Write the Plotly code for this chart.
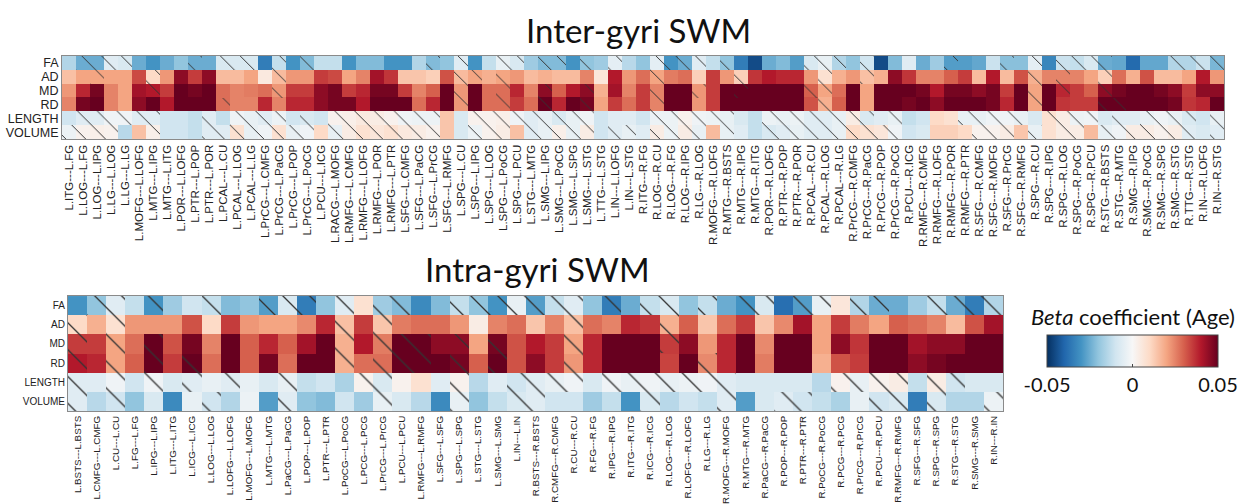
import plotly.graph_objects as go

rows = ["FA", "AD", "MD", "RD", "LENGTH", "VOLUME"]

inter_labels = [
 "L.ITG---L.FG","L.LOG---L.FG","L.LOG---L.IPG","L.LG---L.LOG","L.LG---L.LG","L.MOFG---L.LOFG",
 "L.MTG---L.IPG","L.MTG---L.ITG","L.POR---L.LOFG","L.PTR---L.POP","L.PTR---L.POR","L.PCAL---L.CU",
 "L.PCAL---L.LOG","L.PCAL---L.LG","L.PrCG---L.CMFG","L.PrCG---L.PaCG","L.PrCG---L.POP","L.PrCG---L.PoCG",
 "L.PCU---L.ICG","L.RACG---L.MOFG","L.RMFG---L.CMFG","L.RMFG---L.LOFG","L.RMFG---L.POR","L.RMFG---L.PTR",
 "L.SFG---L.CMFG","L.SFG---L.PaCG","L.SFG---L.PrCG","L.SFG---L.RMFG","L.SPG---L.CU","L.SPG---L.IPG",
 "L.SPG---L.LOG","L.SPG---L.PoCG","L.SPG---L.PCU","L.STG---L.MTG","L.SMG---L.IPG","L.SMG---L.PoCG",
 "L.SMG---L.SPG","L.SMG---L.STG","L.TTG---L.STG","L.IN---L.LOFG","L.IN---L.STG",
 "R.ITG---R.FG","R.LOG---R.CU","R.LOG---R.FG","R.LOG---R.IPG","R.LG---R.LOG","R.MOFG---R.LOFG",
 "R.MTG---R.BSTS","R.MTG---R.IPG","R.MTG---R.ITG","R.POR---R.LOFG","R.PTR---R.POP","R.PTR---R.POR",
 "R.PCAL---R.CU","R.PCAL---R.LOG","R.PCAL---R.LG","R.PrCG---R.CMFG","R.PrCG---R.PaCG","R.PrCG---R.POP",
 "R.PrCG---R.PoCG","R.PCU---R.ICG","R.RMFG---R.CMFG","R.RMFG---R.LOFG","R.RMFG---R.POR","R.RMFG---R.PTR",
 "R.SFG---R.CMFG","R.SFG---R.MOFG","R.SFG---R.PrCG","R.SFG---R.RMFG","R.SPG---R.CU","R.SPG---R.IPG",
 "R.SPG---R.LOG","R.SPG---R.PoCG","R.SPG---R.PCU","R.STG---R.BSTS","R.STG---R.MTG","R.SMG---R.IPG",
 "R.SMG---R.PoCG","R.SMG---R.SPG","R.SMG---R.STG","R.TTG---R.STG","R.IN---R.LOFG","R.IN---R.STG"]

inter_FA = [-0.015,-0.025,-0.025,-0.006,-0.008,-0.025,-0.03,-0.025,-0.02,-0.025,-0.025,-0.008,-0.008,-0.008,
 -0.035,-0.012,-0.03,-0.022,-0.012,-0.012,-0.03,-0.022,-0.022,-0.03,-0.03,-0.015,-0.022,-0.02,-0.006,-0.03,
 -0.012,-0.004,-0.008,-0.018,-0.022,-0.022,-0.03,-0.02,-0.018,-0.005,-0.014,-0.02,-0.005,-0.03,-0.025,-0.006,
 -0.012,-0.02,-0.035,-0.045,-0.025,-0.022,-0.028,-0.008,-0.004,-0.015,-0.02,-0.01,-0.045,-0.022,-0.006,-0.025,
 -0.018,-0.028,-0.028,-0.026,-0.011,-0.021,-0.021,-0.005,-0.033,-0.011,-0.012,-0.008,-0.025,-0.026,-0.039,
 -0.026,-0.026,-0.015,-0.015,-0.011,-0.023]
inter_AD = [0.015,0.02,0.02,0.02,0.02,0.033,0.01,0.022,0.045,0.035,0.045,0.016,0.016,0.02,0.005,0.016,0.022,
 0.022,0.035,0.033,0.02,0.025,0.042,0.036,0.014,0.014,0.012,0.032,0.016,0.02,0.018,0.02,0.022,0.016,0.018,
 0.016,0.016,0.025,0.006,0.04,0.022,0.028,0.02,0.026,0.028,0.012,0.035,0.022,0.012,0.036,0.04,0.038,0.038,
 0.022,0.008,0.018,0.022,0.015,0.018,0.045,0.036,0.025,0.025,0.03,0.035,0.016,0.04,0.016,0.032,0.018,0.025,
 0.025,0.025,0.02,0.012,0.028,0.018,0.032,0.016,0.016,0.02,0.04,0.022]
inter_MD = [0.022,0.038,0.048,0.025,0.02,0.042,0.04,0.035,0.05,0.048,0.05,0.028,0.025,0.026,0.028,0.022,0.035,
 0.035,0.045,0.048,0.035,0.038,0.048,0.048,0.035,0.025,0.03,0.05,0.022,0.05,0.028,0.028,0.038,0.025,0.045,
 0.03,0.04,0.045,0.018,0.042,0.025,0.035,0.025,0.05,0.05,0.022,0.035,0.05,0.05,0.05,0.05,0.05,0.05,0.03,0.02,
 0.028,0.05,0.02,0.05,0.05,0.05,0.048,0.04,0.048,0.048,0.045,0.048,0.035,0.05,0.02,0.05,0.038,0.035,0.03,
 0.045,0.048,0.05,0.05,0.048,0.045,0.035,0.045,0.045]
inter_RD = [0.025,0.048,0.05,0.025,0.02,0.045,0.05,0.04,0.05,0.05,0.05,0.028,0.025,0.025,0.038,0.025,0.038,
 0.038,0.045,0.048,0.048,0.04,0.05,0.05,0.05,0.028,0.038,0.05,0.022,0.05,0.028,0.028,0.035,0.028,0.05,0.038,
 0.05,0.048,0.02,0.035,0.028,0.035,0.025,0.05,0.05,0.022,0.035,0.05,0.05,0.05,0.05,0.05,0.05,0.032,0.018,
 0.03,0.05,0.02,0.05,0.05,0.048,0.05,0.045,0.05,0.05,0.05,0.048,0.038,0.05,0.02,0.05,0.036,0.035,0.035,0.05,
 0.05,0.05,0.05,0.05,0.048,0.036,0.038,0.05]
inter_LENGTH = [-0.01,-0.006,-0.006,-0.002,-0.002,-0.006,-0.006,-0.01,-0.01,-0.012,-0.006,-0.012,-0.002,-0.004,
 -0.006,-0.003,-0.01,-0.008,-0.01,0.002,0.003,0.005,0.004,0.002,-0.002,-0.003,-0.003,0.014,-0.008,0.002,0.002,
 0.003,-0.002,-0.006,-0.004,-0.008,-0.004,-0.002,-0.01,-0.006,-0.006,-0.01,-0.003,-0.003,0.002,-0.002,-0.003,
 -0.004,-0.008,-0.012,-0.003,-0.004,-0.003,-0.006,-0.006,-0.004,0.004,-0.008,-0.006,-0.004,-0.012,-0.01,0.01,
 0.008,-0.004,-0.004,-0.002,-0.002,-0.004,-0.008,0.008,0.004,-0.003,-0.002,-0.008,-0.006,-0.006,-0.004,-0.002,
 -0.004,-0.008,-0.01,-0.004]
inter_VOLUME = [-0.003,0.002,0.003,0.002,-0.014,0.015,0.003,-0.01,-0.01,-0.012,-0.006,-0.006,0.008,-0.004,-0.002,
 0.008,-0.004,-0.002,0.01,-0.004,0.004,0.008,0.006,0.008,0.005,0.004,0.002,0.014,-0.008,-0.003,0.002,0.004,
 0.015,-0.006,-0.004,0.003,-0.004,0.004,-0.01,-0.006,-0.004,-0.006,0.004,-0.003,0.004,-0.004,0.016,-0.004,
 -0.006,-0.012,-0.008,-0.006,-0.004,-0.006,-0.006,-0.004,0.01,0.008,0.006,-0.002,-0.01,-0.008,0.012,0.012,0.01,
 0.002,0.002,0.004,0.014,-0.004,0.008,0.004,0.004,0.016,-0.004,-0.002,0.004,0.004,0.002,0.004,-0.006,-0.008,
 -0.006]

# non-significant (hatched) cells: column indices per row
inter_ns_FA = [1,2,3,4,9,11,12,13,15,17,26,28,31,32,34,35,37,39,42,43,44,45,47,53,54,55,57,63,67,69,71,72,73,74,79,80,81,82]
inter_ns_AD = [2,6,15,28,29,31,42,48,54,57,69,71,74]
inter_ns_MD = [6,15,28,31,34,37,42,45,48,53,54,69,71,74]
inter_ns_RD = [11,28,31,34,37,42,54,69,74,75]
# significant cells for LENGTH / VOLUME (all other cells in those rows are hatched)
inter_sig_LENGTH = [0,7,8,9,11,16,18,27,28,38,39,40,41,48,49,58,60,61,62,63,69,74,76,81]
inter_sig_VOLUME = [4,5,7,8,9,18,27,28,32,38,41,46,48,49,60,61,62,63,64,68,70,73,81]

intra_labels = [
 "L.BSTS---L.BSTS","L.CMFG---L.CMFG","L.CU---L.CU","L.FG---L.FG","L.IPG---L.IPG","L.ITG---L.ITG",
 "L.ICG---L.ICG","L.LOG---L.LOG","L.LOFG---L.LOFG","L.MOFG---L.MOFG","L.MTG---L.MTG","L.PaCG---L.PaCG",
 "L.POP---L.POP","L.PTR---L.PTR","L.PoCG---L.PoCG","L.PCG---L.PCG","L.PrCG---L.PrCG","L.PCU---L.PCU",
 "L.RMFG---L.RMFG","L.SFG---L.SFG","L.SPG---L.SPG","L.STG---L.STG","L.SMG---L.SMG","L.IN---L.IN",
 "R.BSTS---R.BSTS","R.CMFG---R.CMFG","R.CU---R.CU","R.FG---R.FG","R.IPG---R.IPG","R.ITG---R.ITG",
 "R.ICG---R.ICG","R.LOG---R.LOG","R.LOFG---R.LOFG","R.LG---R.LG","R.MOFG---R.MOFG","R.MTG---R.MTG",
 "R.PaCG---R.PaCG","R.POP---R.POP","R.PTR---R.PTR","R.PoCG---R.PoCG","R.PCG---R.PCG","R.PrCG---R.PrCG",
 "R.PCU---R.PCU","R.RMFG---R.RMFG","R.SFG---R.SFG","R.SPG---R.SPG","R.STG---R.STG","R.SMG---R.SMG","R.IN---R.IN"]

intra_FA = [-0.03,-0.02,-0.006,-0.012,-0.03,-0.018,-0.01,-0.012,-0.022,-0.02,-0.028,-0.008,-0.035,-0.02,-0.006,
 0.008,-0.018,-0.022,-0.032,-0.022,-0.012,-0.02,-0.03,-0.004,-0.028,-0.012,-0.006,-0.02,-0.035,-0.025,-0.012,
 -0.008,-0.02,-0.012,-0.025,-0.03,-0.008,-0.038,-0.028,-0.004,0.006,-0.015,-0.025,-0.025,-0.018,-0.012,-0.025,
 -0.035,-0.015]
intra_AD = [0.01,0.018,0.008,0.022,0.022,0.022,0.032,0.01,0.035,0.022,0.02,0.02,0.024,0.038,0.015,0.035,0.014,
 0.026,0.028,0.028,0.022,0.004,0.025,0.028,0.014,0.025,0.015,0.028,0.025,0.038,0.036,0.018,0.03,0.014,0.028,
 0.035,0.014,0.024,0.042,0.02,0.035,0.026,0.02,0.03,0.028,0.025,0.016,0.032,0.042]
intra_MD = [0.035,0.035,0.02,0.028,0.05,0.032,0.048,0.025,0.05,0.03,0.038,0.03,0.042,0.05,0.018,0.04,0.026,0.05,
 0.05,0.045,0.045,0.02,0.048,0.032,0.04,0.035,0.02,0.038,0.05,0.05,0.05,0.035,0.045,0.022,0.038,0.05,0.024,
 0.05,0.05,0.02,0.045,0.036,0.05,0.05,0.042,0.045,0.045,0.05,0.05]
intra_RD = [0.04,0.038,0.02,0.03,0.05,0.035,0.05,0.028,0.05,0.03,0.048,0.028,0.05,0.05,0.018,0.028,0.028,0.05,
 0.05,0.05,0.048,0.03,0.05,0.032,0.045,0.035,0.022,0.038,0.05,0.05,0.05,0.034,0.05,0.024,0.038,0.05,0.026,0.05,
 0.05,0.018,0.032,0.035,0.05,0.05,0.045,0.048,0.05,0.05,0.05]
intra_LENGTH = [-0.006,-0.006,-0.002,-0.01,-0.002,-0.008,-0.006,-0.004,-0.006,-0.004,-0.008,-0.004,-0.012,-0.01,
 -0.016,0.002,-0.008,0.002,0.008,-0.006,0.002,-0.014,-0.006,-0.01,-0.006,-0.004,-0.002,-0.008,-0.002,-0.004,
 -0.002,-0.004,-0.003,-0.002,-0.006,-0.008,-0.008,-0.008,-0.008,-0.014,0.002,-0.004,0.002,0.004,-0.012,0.004,
 -0.01,-0.008,-0.008]
intra_VOLUME = [-0.006,-0.014,-0.01,-0.02,-0.008,-0.032,-0.004,-0.01,-0.015,-0.003,-0.028,-0.006,-0.02,-0.022,
 -0.01,-0.018,-0.004,-0.008,-0.014,-0.032,-0.004,-0.02,-0.012,-0.008,-0.006,-0.01,-0.01,-0.018,-0.012,-0.03,
 -0.008,-0.014,-0.01,-0.012,-0.006,-0.028,-0.008,-0.006,-0.01,-0.012,-0.016,-0.004,-0.01,-0.008,-0.035,-0.008,
 -0.015,-0.015,-0.003]

intra_ns_FA = [1,2,4,7,10,11,12,14,16,17,20,21,22,23,24,25,26,28,30,31,33,35,36,38,39,41,42,45,46,47,48]
intra_ns_AD = [0,2,14,16,26,31]
intra_ns_MD = [0,2,4,14,16,17,18,20,22,26,31]
intra_ns_RD = [0,2,4,6,14,16,17,18,20,22,26,33]
intra_ns_LENGTH = [0,2,4,6,8,11,15,16,20,23,24,25,26,28,29,30,31,32,33,34,40,41,42,43,45,46]
intra_ns_VOLUME = [0,2,7,11,16,20,23,24,30,34,37,38,42,43,45,48]

W, H = 1243, 504
colorscale = [[0.0, "#053061"], [0.1, "#2166ac"], [0.2, "#4393c3"], [0.3, "#92c5de"], [0.4, "#d1e5f0"],
              [0.5, "#f7f7f7"], [0.6, "#fddbc7"], [0.7, "#f4a582"], [0.8, "#d6604d"], [0.9, "#b2182b"],
              [1.0, "#67001f"]]

fig = go.Figure()

def add_panel(labels, zrows, ns_rows, xa, ya, cell):
    fig.add_trace(go.Heatmap(z=zrows, x=labels, y=list(range(len(rows))), coloraxis="coloraxis",
                             xaxis=xa, yaxis=ya, hoverinfo="skip"))
    hx, hb = [], []
    for r, cols in enumerate(ns_rows):
        for c in cols:
            hx.append(labels[c])
            hb.append(r - 0.5)
    fig.add_trace(go.Bar(x=hx, y=[1] * len(hx), base=hb, xaxis=xa, yaxis=ya, showlegend=False,
                         hoverinfo="skip",
                         marker=dict(color="rgba(0,0,0,0)", line=dict(width=0),
                                     pattern=dict(shape="\\", fillmode="replace", size=cell,
                                                  fgcolor="#333333", bgcolor="rgba(0,0,0,0)",
                                                  solidity=0.07))))

inter_ns_LENGTH = [i for i in range(len(inter_labels)) if i not in inter_sig_LENGTH]
inter_ns_VOLUME = [i for i in range(len(inter_labels)) if i not in inter_sig_VOLUME]

add_panel(inter_labels, [inter_FA, inter_AD, inter_MD, inter_RD, inter_LENGTH, inter_VOLUME],
          [inter_ns_FA, inter_ns_AD, inter_ns_MD, inter_ns_RD, inter_ns_LENGTH, inter_ns_VOLUME], "x", "y", 14)
add_panel(intra_labels, [intra_FA, intra_AD, intra_MD, intra_RD, intra_LENGTH, intra_VOLUME],
          [intra_ns_FA, intra_ns_AD, intra_ns_MD, intra_ns_RD, intra_ns_LENGTH, intra_ns_VOLUME], "x2", "y2", 19)

font_lbl = "Liberation Sans"
frame = dict(showline=True, mirror=True, linecolor="#8a8a8a", linewidth=1, showgrid=False, zeroline=False)

fig.update_layout(
    width=W, height=H, margin=dict(l=0, r=0, t=0, b=0),
    paper_bgcolor="white", plot_bgcolor="white",
    barmode="overlay", bargap=0, showlegend=False,
    xaxis=dict(domain=[62 / W, 1224 / W], anchor="y", type="category", categoryorder="array",
               categoryarray=inter_labels, range=[-0.5, len(inter_labels) - 0.5], tickangle=-90,
               tickfont=dict(family=font_lbl, size=11.5, color="#222"), ticks="", **frame),
    yaxis=dict(domain=[1 - 140.5 / H, 1 - 56.5 / H], anchor="x", range=[5.5, -0.5],
               tickvals=list(range(6)), ticktext=rows, ticks="",
               tickfont=dict(family=font_lbl, size=12.5, color="#222"), **frame),
    xaxis2=dict(domain=[68 / W, 1003 / W], anchor="y2", type="category", categoryorder="array",
                categoryarray=intra_labels, range=[-0.5, len(intra_labels) - 0.5], tickangle=-90,
                tickfont=dict(family=font_lbl, size=9.8, color="#222"), ticks="", **frame),
    yaxis2=dict(domain=[1 - 415 / H, 1 - 299 / H], anchor="x2", range=[5.5, -0.5],
                tickvals=list(range(6)), ticktext=rows, ticks="",
                tickfont=dict(family=font_lbl, size=10, color="#222"), **frame),
    coloraxis=dict(cmin=-0.05, cmax=0.05, colorscale=colorscale,
                   colorbar=dict(orientation="h", x=1132.5 / W, xanchor="center",
                                 y=1 - 338 / H, yanchor="top", len=171, lenmode="pixels",
                                 thickness=32, thicknessmode="pixels", xpad=0, ypad=0,
                                 outlinewidth=1, outlinecolor="#444",
                                 tickvals=[-0.05, 0, 0.05], ticktext=["-0.05", "0", "0.05"],
                                 ticks="inside", ticklen=3, tickcolor="#444",
                                 tickfont=dict(family="Lato", size=20, color="#111"))),
    annotations=[
        dict(text="Inter-gyri SWM", x=638 / W, y=1 - 30 / H, xref="paper", yref="paper",
             xanchor="center", yanchor="middle", showarrow=False,
             font=dict(family="Lato", size=33, color="#111")),
        dict(text="Intra-gyri SWM", x=537 / W, y=1 - 272 / H, xref="paper", yref="paper",
             xanchor="center", yanchor="middle", showarrow=False,
             font=dict(family="Lato", size=33, color="#111")),
        dict(text="<i>Beta</i> coefficient (Age)", x=1133 / W, y=1 - 320 / H, xref="paper", yref="paper",
             xanchor="center", yanchor="middle", showarrow=False,
             font=dict(family="Lato", size=22, color="#111")),
    ],
)

fig.write_html("out.html", config={"displayModeBar": False},
               post_script="document.body.style.margin='0px';")
